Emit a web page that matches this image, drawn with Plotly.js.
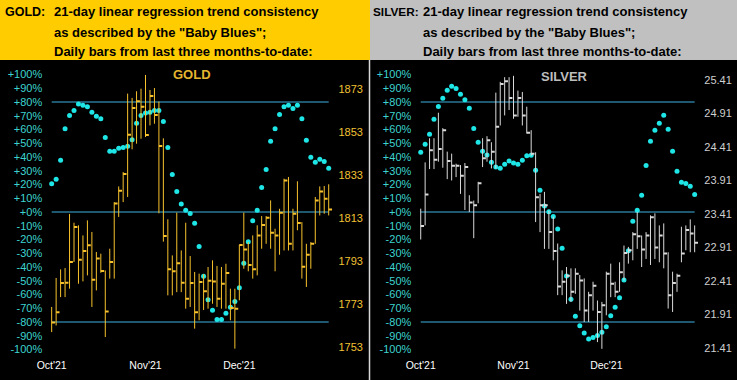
<!DOCTYPE html>
<html>
<head>
<meta charset="utf-8">
<script src="https://cdn.plot.ly/plotly-3.0.1.min.js"></script>
<style>
html,body{margin:0;padding:0;background:#000;}
#chart{width:737px;height:380px;}
</style>
</head>
<body>
<div id="chart"></div>
<script>
// ---------- data ----------
const monthTickIdx = [0, 21, 42];
const monthTickLabels = ["Oct'21", "Nov'21", "Dec'21"];

const pctTickVals = [100, 90, 80, 70, 60, 50, 40, 30, 20, 10, 0, -10, -20, -30, -40, -50, -60, -70, -80, -90, -100];
const bandLevels = [80, 0, -80];

const goldPriceTicks = [1753, 1773, 1793, 1813, 1833, 1853, 1873];
const silverPriceTicks = [21.41, 21.91, 22.41, 22.91, 23.41, 23.91, 24.41, 24.91, 25.41];

const goldHigh = [1771.8,1785.3,1789.3,1789.9,1815.1,1811.0,1809.8,1805.1,1812.1,1806.7,1797.4,1796.6,1788.8,1798.9,1820.6,1827.9,1834.6,1871.1,1869.1,1872.2,1873.4,1879.8,1872.8,1873.7,1867.4,1850.3,1812.6,1795.8,1815.7,1798.1,1811.0,1795.5,1788.1,1787.3,1787.1,1790.4,1793.5,1790.9,1790.4,1791.9,1780.3,1780.3,1800.8,1815.7,1802.0,1805.1,1809.8,1814.1,1814.1,1821.4,1808.2,1817.5,1831.5,1832.3,1817.5,1830.3,1811.3,1801.2,1802.0,1823.0,1827.9,1828.1,1828.9];
const goldLow = [1760.1,1763.2,1776.4,1776.4,1780.3,1792.7,1782.6,1783.7,1786.5,1771.8,1779.5,1787.7,1757.8,1785.0,1785.0,1813.7,1820.6,1823.0,1845.2,1847.8,1850.1,1850.9,1856.3,1857.1,1815.4,1802.2,1777.2,1777.2,1778.7,1778.7,1771.0,1771.8,1761.7,1765.6,1770.4,1771.0,1773.3,1771.8,1771.0,1771.0,1765.6,1752.4,1774.9,1789.6,1788.4,1785.0,1786.5,1798.9,1801.2,1798.9,1788.4,1796.1,1798.1,1798.1,1798.1,1807.5,1785.0,1781.1,1789.6,1801.2,1814.4,1815.2,1814.4];
const goldClose = [1764.6,1769.3,1782.9,1783.1,1792.7,1809.0,1793.8,1797.8,1800.5,1784.5,1794.3,1788.5,1769.7,1792.7,1819.9,1825.9,1833.7,1852.0,1864.4,1867.5,1865.0,1851.8,1870.0,1861.1,1846.7,1804.8,1789.3,1788.4,1792.1,1783.1,1775.6,1782.9,1769.3,1783.4,1779.1,1784.0,1783.7,1775.6,1782.6,1787.6,1771.3,1771.0,1800.6,1798.5,1791.3,1789.3,1805.1,1809.9,1813.3,1806.4,1805.1,1815.7,1830.7,1801.2,1815.2,1810.9,1790.5,1796.1,1801.2,1821.4,1825.6,1822.2,1817.2];
const goldBlues = [20.6,23.8,37.6,60.6,70.1,73.9,78.5,77.6,76.6,72.5,69.6,67.9,54.1,44.1,44.1,46.3,47.0,47.8,52.6,64.5,70.1,72.0,72.5,73.9,73.9,65.9,47.0,27.2,15.0,5.8,1.2,-1.0,-8.2,-25.0,-46.8,-63.8,-71.5,-78.1,-78.1,-73.7,-69.3,-65.0,-55.0,-37.3,-21.6,-6.3,1.2,17.9,31.0,51.4,60.6,71.0,76.6,77.6,75.2,77.6,67.9,52.1,39.8,36.1,38.3,36.8,31.8];

const silverHigh = [23.49,24.18,24.54,24.54,24.92,24.69,24.34,24.31,24.16,24.14,24.17,23.69,23.61,23.89,24.54,24.57,24.48,25.22,25.38,25.45,25.45,25.47,25.25,25.23,25.01,24.66,24.33,23.71,23.74,23.46,23.37,22.97,22.57,22.62,22.60,22.60,22.50,22.45,22.25,22.40,22.12,22.10,22.55,22.67,22.40,22.69,22.94,22.92,23.14,23.44,23.09,23.14,23.39,23.42,23.24,23.27,22.84,22.55,22.52,23.22,23.24,23.33,23.24];
const silverLow = [23.03,23.24,24.08,24.08,24.19,24.10,23.93,23.91,23.96,23.71,23.47,23.44,23.05,23.57,24.11,24.19,24.09,24.09,24.73,24.88,24.96,24.83,24.86,24.73,24.61,24.28,23.29,23.14,22.89,22.89,22.72,22.20,22.20,22.07,22.10,22.22,21.97,21.80,21.80,21.97,21.50,21.40,21.90,22.17,22.17,22.25,22.42,22.67,22.72,22.89,22.62,22.74,22.65,22.74,22.69,22.60,22.00,21.95,22.25,22.69,22.87,22.84,22.84];
const silverClose = [23.23,23.70,24.36,24.22,24.38,24.66,24.20,24.13,24.13,23.98,24.11,23.58,23.54,23.87,24.24,24.51,24.34,24.71,25.35,25.39,25.14,24.88,25.14,24.88,24.62,24.31,23.66,23.54,23.54,23.14,22.86,22.33,22.40,22.49,22.25,22.52,22.42,21.97,22.20,22.34,21.95,22.05,22.52,22.37,22.25,22.54,22.83,22.87,23.11,23.08,22.88,23.09,23.36,22.91,23.09,22.82,22.20,22.38,22.49,22.82,23.17,23.12,22.98];
const silverBlues = [43.4,49.2,56.5,67.4,76.8,82.7,88.5,91.4,89.9,85.6,81.7,75.4,60.8,50.7,44.1,41.5,36.1,32.7,31.8,34.7,37.1,35.6,34.7,37.6,41.0,41.2,30.3,15.8,4.4,0.2,-3.2,-12.4,-26.4,-46.5,-63.5,-75.9,-82.7,-88.0,-92.4,-91.2,-89.9,-87.5,-83.4,-75.4,-69.3,-62.3,-49.5,-28.1,-6.8,1.2,12.1,33.9,51.4,59.4,64.5,70.3,60.1,44.1,29.6,21.6,20.8,18.7,12.8];

// ---------- styling ----------
const W = 737, H = 380;
const px = x => x / W;
const py = y => 1 - y / H;
const FONT = "Arial, 'Liberation Sans', sans-serif";
const TICK = 0.75;          // close tick length in bar units
const BLUE_DOT = '#1fe6e6';
const BAND = '#3fb2de';
const PCT_COL = '#3dd3cf';

function pctLabel(v) { return (v >= 0 ? '+' : '') + v + '%'; }

function barTraces(high, low, close, xa, ya, color) {
  const sx = [], sy = [], tx = [], ty = [];
  for (let i = 0; i < high.length; i++) {
    sx.push(i, i, null); sy.push(low[i], high[i], null);
    tx.push(i, i + TICK, null); ty.push(close[i], close[i], null);
  }
  return [
    {type: 'scatter', mode: 'lines', x: sx, y: sy, xaxis: xa, yaxis: ya,
     line: {color: color, width: 1}, hoverinfo: 'skip', connectgaps: false},
    {type: 'scatter', mode: 'lines', x: tx, y: ty, xaxis: xa, yaxis: ya,
     line: {color: color, width: 2}, hoverinfo: 'skip', connectgaps: false}
  ];
}
function dotTrace(vals, xa, ya) {
  return {type: 'scatter', mode: 'markers', x: vals.map((v, i) => i), y: vals,
    xaxis: xa, yaxis: ya, marker: {color: BLUE_DOT, size: 5}, hoverinfo: 'skip'};
}

const data = [
  dotTrace(goldBlues, 'x', 'y'),
  ...barTraces(goldHigh, goldLow, goldClose, 'x', 'y2', '#f7c22c'),
  dotTrace(silverBlues, 'x2', 'y3'),
  ...barTraces(silverHigh, silverLow, silverClose, 'x2', 'y4', '#dadada')
];

const yDom = [py(349.5), py(74.5)];
const baseAx = {showgrid: false, zeroline: false, showline: false, ticks: '', fixedrange: true};

function xAx(dom, anchor) {
  return Object.assign({}, baseAx, {domain: dom, anchor: anchor, range: [-1, 63.5],
    tickmode: 'array', tickvals: monthTickIdx, ticktext: monthTickLabels,
    tickfont: {family: FONT, size: 10.5, color: '#ffffff'}, ticklabelstandoff: 8});
}
function pctAx(anchor) {
  return Object.assign({}, baseAx, {domain: yDom, anchor: anchor, range: [-100, 100],
    tickmode: 'array', tickvals: pctTickVals, ticktext: pctTickVals.map(pctLabel),
    tickfont: {family: FONT, size: 11, color: PCT_COL}, ticklabelstandoff: 4});
}
function priceAx(anchor, over, range, ticks, color, dec) {
  return Object.assign({}, baseAx, {anchor: anchor, overlaying: over, side: 'right', range: range,
    tickmode: 'array', tickvals: ticks, ticktext: ticks.map(v => v.toFixed(dec)),
    tickfont: {family: FONT, size: 11, color: color}, ticklabelstandoff: 2});
}

const shapes = [
  {type: 'rect', xref: 'paper', yref: 'paper', x0: 0, x1: px(370), y0: py(60), y1: 1,
   fillcolor: '#ffcc00', line: {width: 0}, layer: 'below'},
  {type: 'rect', xref: 'paper', yref: 'paper', x0: px(370), x1: 1, y0: py(60), y1: 1,
   fillcolor: '#c0c0c0', line: {width: 0}, layer: 'below'},
  {type: 'line', xref: 'paper', yref: 'paper', x0: px(369.5), x1: px(369.5), y0: 0, y1: py(60),
   line: {color: '#d8d8d8', width: 1.5}}
];
bandLevels.forEach(v => {
  shapes.push({type: 'line', xref: 'x', yref: 'y', x0: 0, x1: goldBlues.length - 1, y0: v, y1: v,
    line: {color: BAND, width: 1.2}, layer: 'below'});
  shapes.push({type: 'line', xref: 'x2', yref: 'y3', x0: 0, x1: silverBlues.length - 1, y0: v, y1: v,
    line: {color: BAND, width: 1.2}, layer: 'below'});
});

function hdr(text, x, y, size) {
  return {xref: 'paper', yref: 'paper', x: px(x), y: py(y), xanchor: 'left', yanchor: 'middle',
    text: text, showarrow: false, font: {family: FONT, size: size || 13, color: '#000000'}};
}
const annotations = [
  hdr('<b>GOLD:</b>', 3, 12, 12.5),
  hdr('<b>21-day linear regression trend consistency</b>', 51.5, 12),
  hdr('<b>as described by the "Baby Blues";</b>', 51.5, 32),
  hdr('<b>Daily bars from last three months-to-date:</b>', 51.5, 52),
  hdr('<b>SILVER:</b>', 370.5, 12, 11.8),
  hdr('<b>21-day linear regression trend consistency</b>', 420.5, 12),
  hdr('<b>as described by the "Baby Blues";</b>', 420.5, 32),
  hdr('<b>Daily bars from last three months-to-date:</b>', 420.5, 52),
  {xref: 'paper', yref: 'paper', x: px(192.5), y: py(74.8), xanchor: 'center', yanchor: 'middle',
   text: '<b>GOLD</b>', showarrow: false, font: {family: FONT, size: 13, color: '#e6b52e'}},
  {xref: 'paper', yref: 'paper', x: px(564.7), y: py(76.5), xanchor: 'center', yanchor: 'middle',
   text: '<b>SILVER</b>', showarrow: false, font: {family: FONT, size: 13, color: '#bdbdbd'}}
];

const layout = {
  width: W, height: H, margin: {l: 0, r: 0, t: 0, b: 0, pad: 0},
  paper_bgcolor: '#000000', plot_bgcolor: '#000000', showlegend: false,
  xaxis: xAx([px(47.2), px(335.4)], 'y'),
  yaxis: pctAx('x'),
  yaxis2: priceAx('x', 'y', [1752, 1880], goldPriceTicks, '#f2c232', 0),
  xaxis2: xAx([px(416.3), px(701.3)], 'y3'),
  yaxis3: pctAx('x2'),
  yaxis4: priceAx('x2', 'y3', [21.39, 25.49], silverPriceTicks, '#cfcfcf', 2),
  shapes: shapes, annotations: annotations, hovermode: false
};

Plotly.newPlot('chart', data, layout, {staticPlot: true, displayModeBar: false});
</script>
</body>
</html>
